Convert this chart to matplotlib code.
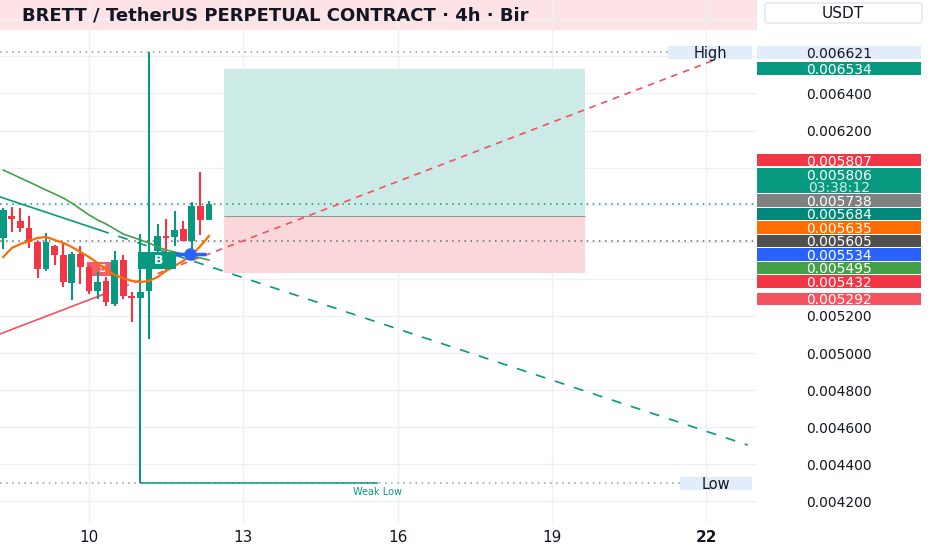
import numpy as np
import matplotlib.pyplot as plt
from matplotlib.patches import Rectangle, FancyBboxPatch
from matplotlib.transforms import blended_transform_factory

# 4h candles, index 10 = day 10 00:00
opens = [0.005621, 0.005739, 0.005712, 0.005674, 0.005599, 0.005454, 0.005577, 0.005529,
         0.005379, 0.005534, 0.005465, 0.005336, 0.005389, 0.005266, 0.005502, 0.005309,
         0.005298, 0.005336, 0.005551, 0.005631, 0.005626, 0.005669, 0.005604, 0.005793, 0.005717]
highs = [0.005782, 0.005787, 0.005782, 0.005739, 0.005604, 0.005647, 0.005583, 0.005599,
         0.005545, 0.005577, 0.005475, 0.005438, 0.005411, 0.005551, 0.005529, 0.005330,
         0.005642, 0.006621, 0.005696, 0.005723, 0.005766, 0.005712, 0.005814, 0.005975, 0.005819]
lows = [0.005561, 0.005653, 0.005653, 0.005567, 0.005405, 0.005443, 0.005475, 0.005357,
        0.005287, 0.005373, 0.005319, 0.005293, 0.005255, 0.005255, 0.005293, 0.005169,
        0.004298, 0.005078, 0.005534, 0.005443, 0.005577, 0.005604, 0.005561, 0.005637, 0.005717]
closes = [0.005771, 0.005723, 0.005674, 0.005599, 0.005454, 0.005599, 0.005529, 0.005384,
          0.005534, 0.005465, 0.005336, 0.005384, 0.005276, 0.005502, 0.005309, 0.005298,
          0.005330, 0.005491, 0.005631, 0.005621, 0.005664, 0.005604, 0.005793, 0.005717, 0.005806]
candle_times = 10 + (np.arange(len(opens)) - 10) / 6

# moving averages
ma_green = [0.005987, 0.005966, 0.005944, 0.005923, 0.005901, 0.005879, 0.005858, 0.005836,
            0.005809, 0.005777, 0.005745, 0.005718, 0.005696, 0.005669, 0.005642, 0.005626,
            0.005610, 0.005594, 0.005572, 0.005556, 0.005545, 0.005534, 0.005524, 0.005513, 0.005502]
ma_orange = [0.005518, 0.005567, 0.005588, 0.005604, 0.005621, 0.005626, 0.005610, 0.005594,
             0.005572, 0.005545, 0.005518, 0.005486, 0.005448, 0.005421, 0.005405, 0.005389,
             0.005383, 0.005389, 0.005410, 0.005443, 0.005470, 0.005497, 0.005529, 0.005577, 0.005631]

# trendlines: start, end of solid part, end of extension
red_t = [8.27, 10.2, 22.17]
red_p = [0.005103, 0.005308, 0.006581]
teal_t = [8.27, 10.2, 22.81]
teal_p = [0.005842, 0.005664, 0.004504]

# long position tool
pos_start, pos_end = 12.625, 19.644
pos_entry, pos_target, pos_stop = 0.005738, 0.006534, 0.005432

high_price, low_price = 0.006621, 0.004298
last_price = 0.005806
gray_line_price = 0.005605
weak_low_end = 15.62
blue_price, blue_t, blue_span = 0.005534, 11.96, (11.67, 12.27)
b_box = (10.95, 11.69, 0.005454, 0.005545)
s_box = (9.96, 10.56, 0.005416, 0.005491)

x_ticks = [10, 13, 16, 19, 22]
x_labels = ['10', '13', '16', '19', '22']

label_prices = [0.006621, 0.006534, 0.005807, 0.005806, 0.005738, 0.005684,
                0.005635, 0.005605, 0.005534, 0.005495, 0.005432, 0.005292]
label_colors = ['#e3ecfa', '#089981', '#f23645', '#089981', '#808080', '#00897b',
                '#ff6d00', '#505050', '#2962ff', '#43a047', '#f23645', '#f7525f']
anchor = 7  # label that stays on its own price

UP, DOWN = '#089981', '#f23645'
W, H = 932, 550
fig = plt.figure(figsize=(W / 100, H / 100), dpi=100)
ax = fig.add_axes([0, 28 / H, 757 / W, 522 / H])
axr = fig.add_axes([757 / W, 28 / H, 175 / W, 522 / H])

ax.set_xlim(8.27, 22.99)
ax.set_ylim(0.004089, 0.006904)
ymin, ymax = ax.get_ylim()
ppp = (ymax - ymin) / 522  # price per pixel
axr.set_ylim(ymin, ymax)
axr.set_xlim(0, 1)
axr.axis('off')

for s in ax.spines.values():
    s.set_visible(False)
ax.set_axisbelow(True)
ax.set_yticks(np.arange(0.0042, 0.00681, 0.0002))
ax.set_xticks(x_ticks)
ax.set_xticklabels(x_labels)
ax.tick_params(axis='y', left=False, labelleft=False)
ax.tick_params(axis='x', length=0, pad=6, labelsize=11, labelcolor='#131722')
ax.get_xticklabels()[-1].set_fontweight('bold')
ax.grid(color='#eef0f5', lw=1)

trans = blended_transform_factory(ax.transAxes, ax.transData)

# header band
ax.add_patch(Rectangle((0, 1 - 30 / 522), 1, 30 / 522, transform=ax.transAxes,
                       facecolor='#fde3e5', edgecolor='none', zorder=0.4))

# position tool
ax.add_patch(Rectangle((pos_start, pos_entry), pos_end - pos_start, pos_target - pos_entry,
                       facecolor='#cdebe6', edgecolor='none', zorder=1))
ax.add_patch(Rectangle((pos_start, pos_stop), pos_end - pos_start, pos_entry - pos_stop,
                       facecolor='#fcd7da', edgecolor='none', zorder=1))
ax.hlines(pos_entry, pos_start, pos_end, color='#8c9a98', lw=0.8, zorder=1.2)

# dotted price lines
ax.axhline(last_price, color=UP, ls=(0, (1, 3)), lw=1.1, zorder=1.5)
ax.axhline(gray_line_price, color='#666666', ls=(0, (1, 3)), lw=1.1, zorder=1.5)
ax.plot([0, 0.882], [high_price, high_price], transform=trans, color='#9598a1',
        ls=(0, (1, 3)), lw=1.1, zorder=1.5)
ax.plot([0, 0.898], [low_price, low_price], transform=trans, color='#9598a1',
        ls=(0, (1, 3)), lw=1.1, zorder=1.5)
ax.add_patch(Rectangle((0.8825, high_price - 6.5 * ppp), 0.111, 13 * ppp, transform=trans,
                       facecolor='#e3ecfa', edgecolor='none', zorder=5))
ax.text(0.938, high_price, 'High', transform=trans, ha='center', va='center_baseline',
        fontsize=10.5, color='#131722', zorder=6)
ax.add_patch(Rectangle((0.898, low_price - 6.5 * ppp), 0.0955, 13 * ppp, transform=trans,
                       facecolor='#e3ecfa', edgecolor='none', zorder=5))
ax.text(0.946, low_price, 'Low', transform=trans, ha='center', va='center_baseline',
        fontsize=10.5, color='#131722', zorder=6)

# S label (behind candles)
ax.add_patch(Rectangle((s_box[0], s_box[2]), s_box[1] - s_box[0], s_box[3] - s_box[2],
                       facecolor=DOWN, alpha=0.8, edgecolor='none', zorder=2.5))
ax.text((s_box[0] + s_box[1]) / 2, (s_box[2] + s_box[3]) / 2, 'S', color='white',
        fontsize=8, fontweight='bold', ha='center', va='center', zorder=2.6)

# trendlines
ax.plot(red_t[:2], red_p[:2], color='#f5505c', lw=1.2, zorder=3)
ax.plot(red_t[1:], red_p[1:], color='#f5505c', lw=1.2, ls=(0, (4, 3.5)), zorder=3)
ax.plot(teal_t[:2], teal_p[:2], color=UP, lw=1.2, zorder=3)
ax.plot(teal_t[1:], teal_p[1:], color=UP, lw=1.2, ls=(0, (6, 6)), zorder=3)

# candles
o, c = np.array(opens), np.array(closes)
cols = [UP if ci >= oi else DOWN for oi, ci in zip(o, c)]
ax.vlines(candle_times, lows, highs, colors=cols, lw=1.5, zorder=4)
ax.bar(candle_times, np.maximum(np.abs(c - o), ppp), bottom=np.minimum(o, c),
       width=0.78 / 6, color=cols, zorder=4)

# moving averages
ax.plot(candle_times, ma_green, color='#43a047', lw=1.2, zorder=4.5)
ax.plot(candle_times, ma_orange, color='#ff6d00', lw=1.6, zorder=4.5)

# weak low
ax.hlines(low_price, candle_times[16], weak_low_end, color=UP, lw=1.1, zorder=3)
ax.text(weak_low_end, low_price - 9 * ppp, 'Weak Low', color=UP, fontsize=7,
        ha='center', va='center')

# B label
ax.add_patch(Rectangle((b_box[0], b_box[2]), b_box[1] - b_box[0], b_box[3] - b_box[2],
                       facecolor=UP, edgecolor='none', zorder=5))
ax.text((b_box[0] + b_box[1]) / 2 + 0.03, (b_box[2] + b_box[3]) / 2, 'B', color='white',
        fontsize=9, fontweight='bold', ha='center', va='center', zorder=5.1)

# blue marker
ax.hlines(blue_price, blue_span[0], blue_span[1], color='#2962ff', lw=2.5, zorder=6)
ax.plot([blue_t], [blue_price], 'o', ms=8, color='#2962ff', zorder=6)

# right price scale labels, stacked so they do not overlap
heights = [12.3] * len(label_prices)
heights[3] = 25.5
gap = 1.2
centers = list(label_prices)
for i in range(anchor - 1, -1, -1):
    centers[i] = max(label_prices[i], centers[i + 1] + (heights[i + 1] / 2 + gap + heights[i] / 2) * ppp)
for i in range(anchor + 1, len(label_prices)):
    centers[i] = min(label_prices[i], centers[i - 1] - (heights[i - 1] / 2 + gap + heights[i] / 2) * ppp)

spans = []
for i, (p, cy, hh, col) in enumerate(zip(label_prices, centers, heights, label_colors)):
    axr.add_patch(Rectangle((0, cy - hh / 2 * ppp), 0.937, hh * ppp,
                            facecolor=col, edgecolor='none', zorder=2))
    spans.append((cy - hh / 2 * ppp, cy + hh / 2 * ppp))
    tcol = '#131722' if i == 0 else 'white'
    if i == 3:
        axr.text(0.47, cy + 6.2 * ppp, f'{p:.6f}', ha='center', va='center_baseline',
                 fontsize=10, color=tcol, zorder=3)
        axr.text(0.47, cy - 6.2 * ppp, '03:38:12', ha='center', va='center_baseline',
                 fontsize=10, color='#d4eeea', zorder=3)
    else:
        axr.text(0.47, cy, f'{p:.6f}', ha='center', va='center_baseline',
                 fontsize=10, color=tcol, zorder=3)

for tick in ax.get_yticks():
    lo, hi = tick - 6 * ppp, tick + 6 * ppp
    if hi > ymax - 30 * ppp:
        continue
    if any(lo < b and hi > a for a, b in spans):
        continue
    axr.text(0.47, tick, f'{tick:.6f}', ha='center', va='center_baseline',
             fontsize=10, color='#131722')

# header text and currency button
fig.text(22 / W, 1 - 15 / H, 'BRETT / TetherUS PERPETUAL CONTRACT · 4h · Bir',
         fontsize=13, fontweight='bold', color='#131722', ha='left', va='center')
fig.add_artist(FancyBboxPatch((765 / W, 1 - 23 / H), 157 / W, 20 / H,
                              boxstyle='round,pad=0,rounding_size=0.004',
                              transform=fig.transFigure, facecolor='white',
                              edgecolor='#e0e3eb', lw=1))
fig.text(843 / W, 1 - 13 / H, 'USDT', fontsize=11, color='#131722', ha='center', va='center')

fig.savefig('out.png', dpi=100)
